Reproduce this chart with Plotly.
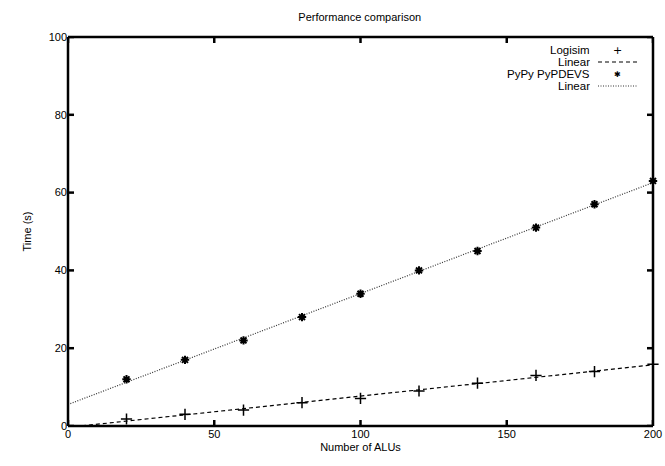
import numpy as np
import plotly.graph_objects as go

# Data
alus = [20, 40, 60, 80, 100, 120, 140, 160, 180, 200]
logisim_time = [1.8, 3.0, 4.1, 6.0, 7.1, 9.0, 11.0, 13.0, 14.0, 15.9]
pypy_time = [12, 17, 22, 28, 34, 40, 45, 51, 57, 63]
x_ticks = [0, 50, 100, 150, 200]
y_ticks = [0, 20, 40, 60, 80, 100]

FONT = "Liberation Sans, Arial, Helvetica, sans-serif"
INK = "#000000"
SOLIDISH = "3000px,1px"

fit_x = np.array([0.0, 200.0])
a1, b1 = np.polyfit(alus, logisim_time, 1)
a2, b2 = np.polyfit(alus, pypy_time, 1)

fig = go.Figure()
fig.add_trace(go.Scatter(x=fit_x, y=a1 * fit_x + b1, mode="lines",
                         line=dict(color=INK, width=1.2, dash="4px,3px"), name="Linear"))
fig.add_trace(go.Scatter(x=fit_x, y=a2 * fit_x + b2, mode="lines",
                         line=dict(color="#333333", width=1.2, dash="1px,1.5px"), name="Linear"))
fig.add_trace(go.Scatter(x=alus, y=logisim_time, mode="markers", cliponaxis=False,
                         marker=dict(symbol="cross-thin", size=8, color=INK,
                                     line=dict(color=INK, width=1.5)),
                         name="Logisim"))
fig.add_trace(go.Scatter(x=alus, y=pypy_time, mode="markers", cliponaxis=False,
                         marker=dict(symbol="asterisk-open", size=7, color=INK,
                                     line=dict(color=INK, width=2)),
                         name="PyPy PyPDEVS"))

axis_common = dict(showline=False, ticks="", showgrid=False, zeroline=False,
                   tickfont=dict(family=FONT, size=11, color=INK))

fig.update_xaxes(range=[0, 200], tickvals=x_ticks,
                 title=dict(text="Number of ALUs", font=dict(family=FONT, size=11, color=INK), standoff=4),
                 **axis_common)
fig.update_yaxes(range=[0, 100], tickvals=y_ticks,
                 title=dict(text="Time (s)", font=dict(family=FONT, size=11, color=INK), standoff=14),
                 **axis_common)

frame_line = dict(color=INK, width=2.5, dash=SOLIDISH)
shapes = [
    dict(type="line", xref="paper", yref="paper", x0=0, x1=1, y0=0, y1=0, line=frame_line, layer="above"),
    dict(type="line", xref="paper", yref="paper", x0=0, x1=1, y0=1, y1=1, line=frame_line, layer="above"),
    dict(type="line", xref="paper", yref="paper", x0=0, x1=0, y0=0, y1=1, line=frame_line, layer="above"),
    dict(type="line", xref="paper", yref="paper", x0=1, x1=1, y0=0, y1=1, line=frame_line, layer="above"),
]
tick_line = dict(color=INK, width=2.5, dash=SOLIDISH)
tx = 6 / 389.0
ty = 6 / 585.0
for t in x_ticks:
    shapes.append(dict(type="line", xref="x", yref="paper", x0=t, x1=t, y0=0, y1=tx, line=tick_line, layer="above"))
    shapes.append(dict(type="line", xref="x", yref="paper", x0=t, x1=t, y0=1, y1=1 - tx, line=tick_line, layer="above"))
for t in y_ticks:
    shapes.append(dict(type="line", xref="paper", yref="y", x0=0, x1=ty, y0=t, y1=t, line=tick_line, layer="above"))
    shapes.append(dict(type="line", xref="paper", yref="y", x0=1, x1=1 - ty, y0=t, y1=t, line=tick_line, layer="above"))

# gnuplot-style legend: right-aligned label followed by its sample
legend_rows = [("Logisim", "marker", "+"), ("Linear", "dash", None),
               ("PyPy PyPDEVS", "marker", "✱"), ("Linear", "dot", None)]
row_y = [0.9666, 0.9357, 0.9049, 0.874]
annotations = []
for (label, kind, sym), yy in zip(legend_rows, row_y):
    annotations.append(dict(x=0.895, y=yy, xref="paper", yref="paper", text=label,
                            showarrow=False, xanchor="right", yanchor="middle", height=12,
                            font=dict(family=FONT, size=11.5, color=INK)))
    if kind == "marker":
        annotations.append(dict(x=0.940, y=yy, xref="paper", yref="paper", text=sym,
                                showarrow=False, xanchor="center", yanchor="middle", height=12,
                                font=dict(family="DejaVu Sans", size=8 if sym == "✱" else 11, color=INK)))
    else:
        shapes.append(dict(type="line", xref="paper", yref="paper", x0=0.906, x1=0.974, y0=yy, y1=yy,
                           line=dict(color=INK if kind == "dash" else "#333333", width=1.2,
                                     dash="4px,3px" if kind == "dash" else "1px,1.5px")))

fig.update_layout(
    width=665, height=466,
    margin=dict(l=68, r=12, t=37, b=40, autoexpand=False),
    paper_bgcolor="white", plot_bgcolor="white",
    showlegend=False,
    title=dict(text="Performance comparison", x=0.541, xanchor="center", y=0.963, yanchor="middle",
               font=dict(family=FONT, size=11, color=INK)),
    shapes=shapes, annotations=annotations,
)

fig.write_html("out.html", config={"displayModeBar": False},
               post_script="document.body.style.margin='0';document.body.style.padding='0';")
